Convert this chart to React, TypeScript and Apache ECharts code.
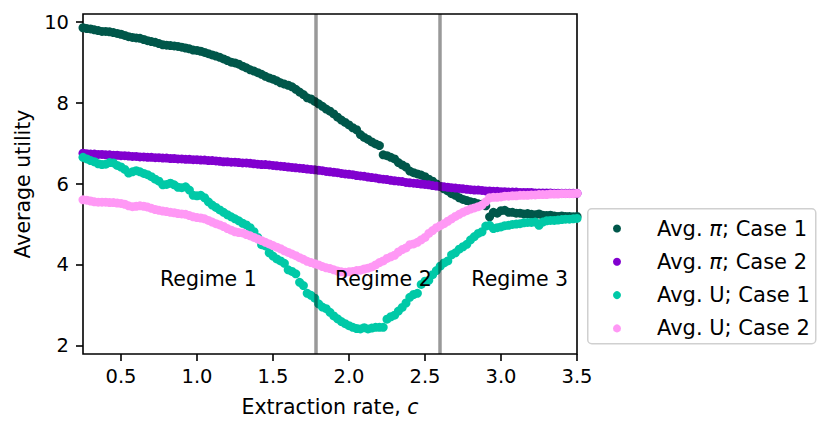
import React, { useEffect, useRef } from "react";
import * as echarts from "echarts";

// Extraction rate c (sampling grid)
const xValues = [
  0.25, 0.275, 0.3, 0.325, 0.35, 0.375, 0.4, 0.425, 0.45, 0.475,
  0.5, 0.525, 0.55, 0.575, 0.6, 0.625, 0.65, 0.675, 0.7, 0.725,
  0.75, 0.775, 0.8, 0.825, 0.85, 0.875, 0.9, 0.925, 0.95, 0.975,
  1.0, 1.025, 1.05, 1.075, 1.1, 1.125, 1.15, 1.175, 1.2, 1.225,
  1.25, 1.275, 1.3, 1.325, 1.35, 1.375, 1.4, 1.425, 1.45, 1.475,
  1.5, 1.525, 1.55, 1.575, 1.6, 1.625, 1.65, 1.675, 1.7, 1.725,
  1.75, 1.775, 1.8, 1.825, 1.85, 1.875, 1.9, 1.925, 1.95, 1.975,
  2.0, 2.025, 2.05, 2.075, 2.1, 2.125, 2.15, 2.175, 2.2, 2.225,
  2.25, 2.275, 2.3, 2.325, 2.35, 2.375, 2.4, 2.425, 2.45, 2.475,
  2.5, 2.525, 2.55, 2.575, 2.6, 2.625, 2.65, 2.675, 2.7, 2.725,
  2.75, 2.775, 2.8, 2.825, 2.85, 2.875, 2.9, 2.925, 2.95, 2.975,
  3.0, 3.025, 3.05, 3.075, 3.1, 3.125, 3.15, 3.175, 3.2, 3.225,
  3.25, 3.275, 3.3, 3.325, 3.35, 3.375, 3.4, 3.425, 3.45, 3.475,
  3.5,
];

const avgPiCase1 = [
  9.86, 9.84, 9.83, 9.81, 9.79, 9.77, 9.77, 9.76, 9.74, 9.72,
  9.7, 9.67, 9.64, 9.62, 9.61, 9.6, 9.57, 9.54, 9.52, 9.5,
  9.47, 9.44, 9.43, 9.42, 9.41, 9.4, 9.38, 9.36, 9.34, 9.31,
  9.3, 9.28, 9.25, 9.22, 9.19, 9.16, 9.13, 9.09, 9.05, 9.01,
  8.99, 8.96, 8.91, 8.87, 8.82, 8.79, 8.75, 8.71, 8.66, 8.62,
  8.59, 8.55, 8.5, 8.47, 8.44, 8.4, 8.34, 8.27, 8.21, 8.13,
  8.1, 8.04, 7.98, 7.92, 7.85, 7.8, 7.73, 7.65, 7.58, 7.52,
  7.46, 7.39, 7.34, 7.22, 7.15, 7.1, 7.04, 6.99, 6.95, 6.72,
  6.7, 6.66, 6.62, 6.53, 6.47, 6.42, 6.32, 6.28, 6.25, 6.22,
  6.18, 6.12, 6.07, 6.0, 5.94, 5.88, 5.83, 5.76, 5.72, 5.66,
  5.62, 5.59, 5.56, 5.54, 5.51, 5.5, 5.46, 5.19, 5.3, 5.28,
  5.34, 5.35, 5.3, 5.3, 5.28, 5.28, 5.26, 5.27, 5.25, 5.24,
  5.26, 5.23, 5.22, 5.23, 5.21, 5.2, 5.21, 5.2, 5.2, 5.19,
  5.2,
];

const avgPiCase2 = [
  6.76, 6.75, 6.74, 6.74, 6.73, 6.73, 6.72, 6.72, 6.71, 6.71,
  6.7, 6.7, 6.69, 6.68, 6.68, 6.67, 6.67, 6.66, 6.66, 6.65,
  6.65, 6.64, 6.64, 6.63, 6.63, 6.62, 6.62, 6.61, 6.61, 6.6,
  6.6, 6.59, 6.59, 6.58, 6.58, 6.57, 6.56, 6.55, 6.55, 6.54,
  6.54, 6.53, 6.52, 6.52, 6.51, 6.5, 6.49, 6.48, 6.48, 6.47,
  6.46, 6.45, 6.44, 6.43, 6.42, 6.41, 6.4, 6.39, 6.38, 6.37,
  6.36, 6.35, 6.34, 6.33, 6.31, 6.3, 6.29, 6.28, 6.26, 6.25,
  6.24, 6.23, 6.21, 6.2, 6.19, 6.17, 6.16, 6.15, 6.13, 6.12,
  6.11, 6.09, 6.08, 6.07, 6.06, 6.04, 6.03, 6.02, 6.01, 6.0,
  5.99, 5.98, 5.96, 5.95, 5.94, 5.93, 5.92, 5.91, 5.9, 5.89,
  5.88, 5.87, 5.86, 5.85, 5.85, 5.84, 5.83, 5.83, 5.82, 5.82,
  5.81, 5.81, 5.8, 5.8, 5.8, 5.79, 5.79, 5.79, 5.79, 5.78,
  5.78, 5.78, 5.78, 5.78, 5.77, 5.77, 5.77, 5.77, 5.77, 5.77,
  5.77,
];

const avgUCase1 = [
  6.66, 6.62, 6.58, 6.55, 6.5, 6.48, 6.49, 6.53, 6.52, 6.46,
  6.42, 6.36, 6.27, 6.3, 6.33, 6.3, 6.26, 6.23, 6.18, 6.12,
  6.07, 5.98, 5.99, 6.02, 5.98, 5.92, 5.91, 5.93, 5.85, 5.72,
  5.71, 5.72, 5.66, 5.56, 5.48, 5.42, 5.36, 5.3, 5.24, 5.19,
  5.14, 5.09, 5.03, 4.99, 4.92, 4.82, 4.68, 4.5, 4.47, 4.3,
  4.22, 4.15, 4.1, 4.04, 3.88, 3.84, 3.78, 3.57, 3.49, 3.3,
  3.25, 3.18, 3.04, 2.96, 2.92, 2.83, 2.74, 2.67, 2.6, 2.55,
  2.5, 2.46, 2.43, 2.42, 2.45, 2.42, 2.44, 2.46, 2.46, 2.46,
  2.66, 2.72, 2.76, 2.86, 2.95, 3.06, 3.2, 3.27, 3.3, 3.52,
  3.6, 3.62, 3.76, 3.86, 3.97, 4.05, 4.1, 4.25, 4.3, 4.39,
  4.45, 4.51, 4.62, 4.7, 4.78, 4.82, 4.96, 4.98, 4.9, 4.92,
  4.94, 4.97, 4.98, 5.0, 5.01, 5.02, 5.04, 5.05, 5.05, 5.06,
  4.98, 5.06, 5.09, 5.1, 5.1, 5.11, 5.12, 5.13, 5.13, 5.14,
  5.15,
];

const avgUCase2 = [
  5.61, 5.6, 5.58, 5.56, 5.55, 5.55, 5.55, 5.54, 5.54, 5.53,
  5.52, 5.5, 5.46, 5.44, 5.45, 5.46, 5.45, 5.43, 5.4, 5.37,
  5.35, 5.33, 5.32, 5.3, 5.29, 5.27, 5.26, 5.25, 5.22, 5.19,
  5.17, 5.16, 5.14, 5.1, 5.06, 5.02, 4.99, 4.95, 4.9, 4.86,
  4.82, 4.8, 4.79, 4.75, 4.72, 4.68, 4.64, 4.6, 4.56, 4.52,
  4.48, 4.44, 4.4, 4.35, 4.31, 4.27, 4.23, 4.18, 4.14, 4.09,
  4.06, 4.03, 4.0, 3.96, 3.93, 3.91, 3.88, 3.85, 3.83, 3.82,
  3.83, 3.84, 3.86, 3.87, 3.9, 3.92, 3.95, 4.0, 4.06, 4.1,
  4.16, 4.2, 4.24, 4.32, 4.38, 4.42, 4.5, 4.52, 4.56, 4.62,
  4.68, 4.78, 4.85, 4.92, 4.97, 5.02, 5.08, 5.14, 5.2, 5.25,
  5.3, 5.34, 5.38, 5.41, 5.44, 5.48, 5.56, 5.66, 5.67, 5.67,
  5.68, 5.7, 5.7, 5.71, 5.71, 5.72, 5.72, 5.72, 5.73, 5.73,
  5.74, 5.74, 5.74, 5.75, 5.75, 5.75, 5.76, 5.76, 5.76, 5.76,
  5.77,
];

const seriesNames = ["Avg. π; Case 1", "Avg. π; Case 2", "Avg. U; Case 1", "Avg. U; Case 2"];
const seriesColors = ["#00574a", "#8100cf", "#00c9a7", "#ff98f5"];
const seriesValues = [avgPiCase1, avgPiCase2, avgUCase1, avgUCase2];

const regimeBounds = [1.78, 2.6];
const regimeNames = ["Regime 1", "Regime 2", "Regime 3"];
const regimeX = [1.075, 2.226, 3.123];
const regimeY = [3.65, 3.65, 3.65];

const xTicks = [0.5, 1.0, 1.5, 2.0, 2.5, 3.0, 3.5];
const yTicks = [2, 4, 6, 8, 10];

const FONT = "DejaVu Sans";

export default function App() {
  const ref = useRef<HTMLDivElement>(null);

  useEffect(() => {
    if (!ref.current) return;
    const chart = echarts.init(ref.current, null, { renderer: "svg" });

    const scatterSeries = seriesNames.map((name, k) => ({
      name,
      type: "scatter",
      symbol: "circle",
      symbolSize: 9,
      itemStyle: { color: seriesColors[k], opacity: 1 },
      data: xValues.map((x, i) => [x, seriesValues[k][i]]),
      z: 2 + k,
      silent: true,
    }));

    const option: any = {
      animation: false,
      grid: {
        left: 83,
        top: 14,
        right: 252,
        bottom: 80,
        show: true,
        borderColor: "#000",
        borderWidth: 1.6,
        backgroundColor: "transparent",
      },
      xAxis: {
        type: "value",
        min: 0.25,
        max: 3.5,
        name: "Extraction rate, {i|c}",
        nameLocation: "middle",
        nameGap: 42,
        nameTextStyle: {
          fontFamily: FONT,
          fontSize: 20.5,
          color: "#000",
          rich: { i: { fontStyle: "italic", fontFamily: FONT, fontSize: 20.5, color: "#000" } },
        },
        axisLine: { show: false },
        splitLine: { show: false },
        axisTick: {
          show: true,
          length: 7,
          inside: false,
          customValues: xTicks,
          lineStyle: { color: "#000", width: 1.6 },
        },
        axisLabel: {
          customValues: xTicks,
          margin: 12,
          fontFamily: FONT,
          fontSize: 19.5,
          color: "#000",
          formatter: (v: number) => v.toFixed(1),
        },
      },
      yAxis: {
        type: "value",
        min: 1.8,
        max: 10.2,
        name: "Average utility",
        nameLocation: "middle",
        nameGap: 46,
        nameTextStyle: { fontFamily: FONT, fontSize: 20.5, color: "#000" },
        axisLine: { show: false },
        splitLine: { show: false },
        axisTick: {
          show: true,
          length: 7,
          customValues: yTicks,
          lineStyle: { color: "#000", width: 1.6 },
        },
        axisLabel: {
          customValues: yTicks,
          margin: 14,
          fontFamily: FONT,
          fontSize: 19.5,
          color: "#000",
          formatter: (v: number) => String(v),
        },
      },
      legend: {
        data: seriesNames,
        orient: "vertical",
        align: "left",
        left: 613,
        top: 218,
        padding: 0,
        itemWidth: 38,
        itemHeight: 8,
        itemGap: 12.3,
        selectedMode: false,
        icon: "circle",
        formatter: (name: string) => name.replace("π", "{i|π}"),
        textStyle: {
          fontFamily: FONT,
          fontSize: 21,
          lineHeight: 20,
          color: "#000",
          padding: [0, 0, 0, 16],
          rich: { i: { fontStyle: "italic", fontFamily: FONT, fontSize: 21, lineHeight: 20, color: "#000" } },
        },
      },
      graphic: [
        {
          type: "rect",
          left: 587,
          top: 208,
          shape: { width: 228, height: 135, r: 4 },
          style: { fill: "rgba(255,255,255,0.8)", stroke: "#d0d0d0", lineWidth: 1.5 },
          z: 0,
          silent: true,
        },
      ],
      series: [
        ...scatterSeries,
        {
          name: "regimes",
          type: "scatter",
          symbolSize: 0,
          silent: true,
          z: 10,
          itemStyle: { opacity: 1, color: "#000" },
          data: regimeNames.map((n, i) => [regimeX[i], regimeY[i], n]),
          label: {
            show: true,
            position: "inside",
            formatter: (p: any) => p.data[2],
            fontFamily: FONT,
            fontSize: 20.5,
            color: "#000",
            opacity: 1,
            textBorderWidth: 0,
          },
          markLine: {
            silent: true,
            symbol: "none",
            label: { show: false },
            lineStyle: { color: "rgba(0,0,0,0.4)", width: 3.5, type: "solid", opacity: 1 },
            data: regimeBounds.map((b) => ({ xAxis: b })),
          },
        },
      ],
    };

    chart.setOption(option);
    return () => chart.dispose();
  }, []);

  return (
    <div
      ref={ref}
      style={{ position: "fixed", left: 0, top: 0, width: 829, height: 434, background: "#fff" }}
    />
  );
}
